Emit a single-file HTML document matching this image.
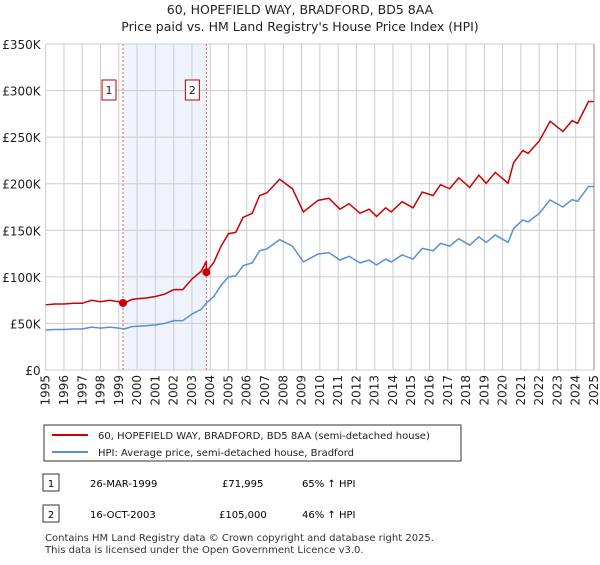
<!DOCTYPE html>
<html><head><meta charset="utf-8"><style>
body{margin:0;background:#fff;font-family:"Liberation Sans","DejaVu Sans",sans-serif;}
svg text{font-family:"DejaVu Sans","Liberation Sans",sans-serif;}
</style></head><body>
<svg id="c" width="600" height="560" xmlns="http://www.w3.org/2000/svg">
<text x="300" y="14" text-anchor="middle" font-size="12.5" fill="#222">60, HOPEFIELD WAY, BRADFORD, BD5 8AA</text>
<text x="300" y="31" text-anchor="middle" font-size="12.5" fill="#222">Price paid vs. HM Land Registry's House Price Index (HPI)</text>
<g id="grid"></g><g id="series"></g><g id="axes"></g>
<rect x="44" y="425" width="417" height="36" fill="#fff" stroke="#333"/>
<line x1="52" y1="435" x2="88" y2="435" stroke="#cc0000" stroke-width="2"/>
<text x="98" y="439" font-size="10" fill="#222">60, HOPEFIELD WAY, BRADFORD, BD5 8AA (semi-detached house)</text>
<line x1="52" y1="452" x2="88" y2="452" stroke="#5b8fd4" stroke-width="2"/>
<text x="98" y="456" font-size="10" fill="#222">HPI: Average price, semi-detached house, Bradford</text>
<g>
<rect x="43" y="474" width="16" height="17" fill="#fff" stroke="#333"/><text x="51" y="487" text-anchor="middle" font-size="10">1</text>
<text x="90" y="487" font-size="10">26-MAR-1999</text><text x="222" y="487" font-size="10">£71,995</text><text x="302" y="487" font-size="10">65% ↑ HPI</text></g>
<g>
<rect x="43" y="505" width="16" height="17" fill="#fff" stroke="#333"/><text x="51" y="518" text-anchor="middle" font-size="10">2</text>
<text x="90" y="518" font-size="10">16-OCT-2003</text><text x="219" y="518" font-size="10">£105,000</text><text x="302" y="518" font-size="10">46% ↑ HPI</text></g>
<text x="45" y="541" font-size="10" fill="#333">Contains HM Land Registry data © Crown copyright and database right 2025.</text>
<text x="45" y="553" font-size="10" fill="#333">This data is licensed under the Open Government Licence v3.0.</text>
</svg>
<script>
const yTicks=[0,50,100,150,200,250,300,350];
const yTickLabels=["£0","£50K","£100K","£150K","£200K","£250K","£300K","£350K"];
const years=[1995,1996,1997,1998,1999,2000,2001,2002,2003,2004,2005,2006,2007,2008,2009,2010,2011,2012,2013,2014,2015,2016,2017,2018,2019,2020,2021,2022,2023,2024,2025];
const hpiT=[1995,1995.5,1996,1996.5,1997,1997.5,1998,1998.5,1999,1999.3,1999.7,2000,2000.5,2001,2001.5,2002,2002.5,2003,2003.5,2003.8,2004.2,2004.6,2005,2005.4,2005.8,2006.3,2006.7,2007.1,2007.8,2008.5,2009.1,2009.9,2010.5,2011.1,2011.6,2012.2,2012.7,2013.1,2013.6,2013.9,2014.5,2015.1,2015.6,2016.2,2016.6,2017.1,2017.6,2018.2,2018.7,2019.1,2019.6,2020.3,2020.6,2021.1,2021.4,2022.0,2022.6,2023.3,2023.8,2024.1,2024.7,2025];
const hpiV=[43,43.5,43.5,44,44,46,45,46,45,44,46.5,47,47.5,48.5,50,53,53,60,65,72,79,91,100,101,112,115,128,130,140,133,116,124.5,126,118,122,115,118,112.7,119,116,123.5,119,130.6,128,136,133,141,134,143,137,145,137,152,161,159,168,182.5,175,183,181,197,197];
const saleT=[1999.23,2003.79];
const saleV=[71.995,105];
const saleLabels=["1","2"];
const X0=45.7,X1=594,Y0=370,Y1=44;
const xs=t=>X0+(t-1995)/30*(X1-X0);
const ys=v=>Y0-v/350*(Y0-Y1);
const NS="http://www.w3.org/2000/svg";
function mk(tag,attrs,parent,txt){const e=document.createElementNS(NS,tag);for(const k in attrs)e.setAttribute(k,attrs[k]);if(txt!=null)e.textContent=txt;parent.appendChild(e);return e;}
const grid=document.getElementById('grid'),ser=document.getElementById('series'),ax=document.getElementById('axes');
const sh=mk('rect',{x:xs(saleT[0]),y:Y1,width:xs(saleT[1])-xs(saleT[0]),height:Y0-Y1,fill:'#eef3fc'},grid);

yTicks.forEach((v,i)=>{const l=mk('line',{x1:X0,x2:X1,y1:ys(v),y2:ys(v),stroke:'#ccc'},grid);

const t=mk('text',{x:X0-5,y:ys(v)+5,'text-anchor':'end','font-size':'12',fill:'#222'},ax,yTickLabels[i]);
});
years.forEach(y=>{const l=mk('line',{x1:xs(y),x2:xs(y),y1:Y1,y2:Y0,stroke:'#ccc'},grid);

const t=mk('text',{x:0,y:0,'text-anchor':'end','font-size':'12',fill:'#222',transform:`translate(${xs(y)+4},${Y0+5}) rotate(-90)`},ax,String(y));
});
saleT.forEach((t,i)=>{const l=mk('line',{x1:xs(t),x2:xs(t),y1:Y1,y2:Y0,stroke:'#e06060','stroke-dasharray':'2,2'},grid);

const b=mk('rect',{x:xs(t)-21,y:80,width:14,height:20,fill:'#fff',stroke:'#b00'},ax);

const tx=mk('text',{x:xs(t)-14,y:94,'text-anchor':'middle','font-size':'11',fill:'#222'},ax,saleLabels[i]);
});
function hpiAt(t){for(let i=1;i<hpiT.length;i++)if(t<=hpiT[i]){const f=(t-hpiT[i-1])/(hpiT[i]-hpiT[i-1]);return hpiV[i-1]+f*(hpiV[i]-hpiV[i-1]);}return hpiV[hpiV.length-1];}
const f1=saleV[0]/hpiAt(saleT[0]),f2=saleV[1]/hpiAt(saleT[1]);
const bp=hpiT.map((t,i)=>xs(t)+','+ys(hpiV[i])).join(' ');
const bl=mk('polyline',{points:bp,fill:'none',stroke:'#5b8fd4','stroke-width':1.5},ser);

const rp=[];let done=false;hpiT.forEach((t,i)=>{if(t>saleT[1]&&!done){rp.push(xs(saleT[1])+','+ys(hpiAt(saleT[1])*f1));rp.push(xs(saleT[1])+','+ys(saleV[1]));done=true;}
rp.push(xs(t)+','+ys(hpiV[i]*(t<=saleT[1]?f1:f2)));});
const rl=mk('polyline',{points:rp.join(' '),fill:'none',stroke:'#cc0000','stroke-width':1.5},ser);

saleT.forEach((t,i)=>{const c=mk('circle',{cx:xs(t),cy:ys(saleV[i]),r:4,fill:'#cc0000'},ser);
});
const bd=mk('line',{x1:X1,x2:X1,y1:Y1,y2:Y0,stroke:'#888'},ax);

</script>
</body></html>
